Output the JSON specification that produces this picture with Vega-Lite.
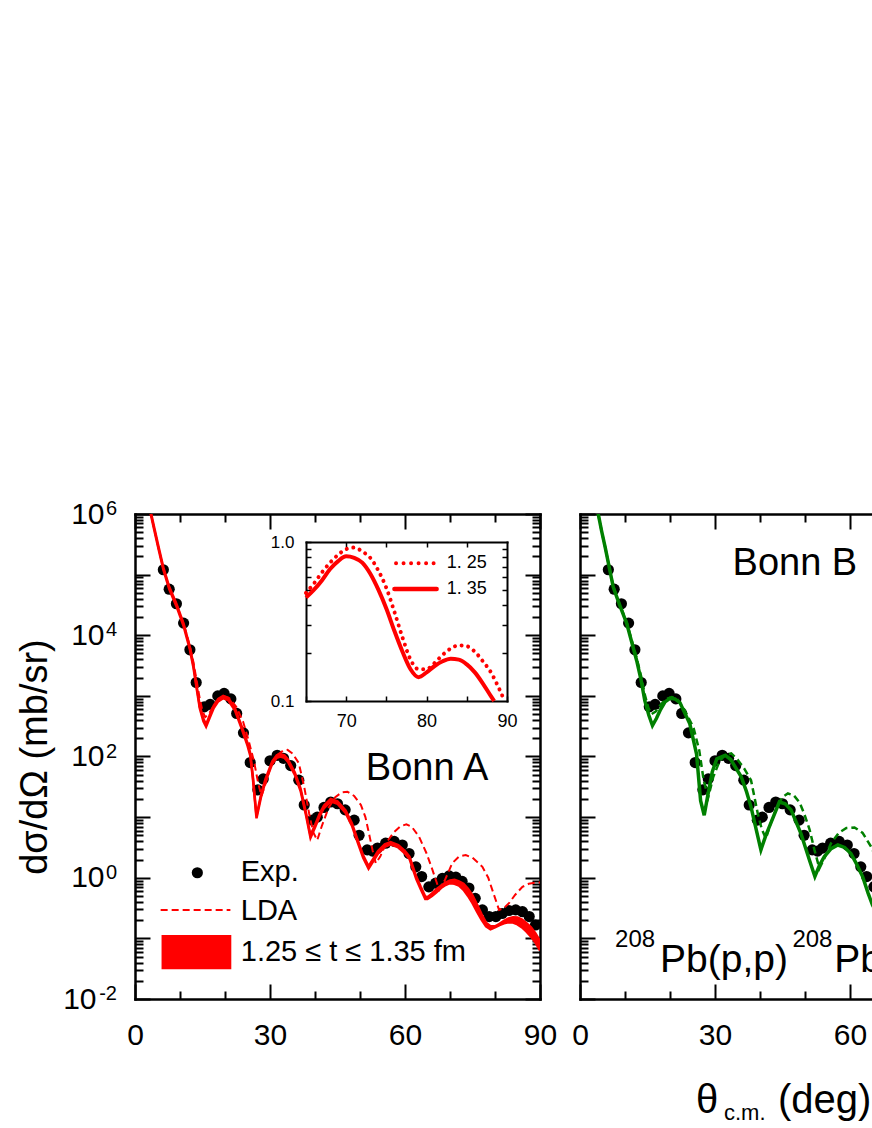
{
  "$schema": "https://vega.github.io/schema/vega-lite/v6.json",
  "padding": {"left": 16, "top": 499, "right": 0, "bottom": 0},
  "bounds": "flush",
  "spacing": 40,
  "config": {
    "view": {"stroke": null},
    "font": "Liberation Sans",
    "axis": {"grid": false, "domainColor": "black", "domainWidth": 2.5, "domainCap": "square", "tickColor": "black", "tickWidth": 2, "labelFont": "Liberation Sans", "labelFontSize": 30, "labelColor": "black", "titleFont": "Liberation Sans", "titleColor": "black", "titleFontWeight": "normal", "labelFlush": false, "labelOverlap": false, "labelBound": false},
    "text": {"font": "Liberation Sans", "color": "black"}
  },
  "datasets": {
    "one": [{}],
    "expo": [{"v":1000000,"e":"6"},{"v":10000,"e":"4"},{"v":100,"e":"2"},{"v":1,"e":"0"},{"v":0.01,"e":"-2"}],
    "exp": [
      {"deg":6.3,"xs":120200},{"deg":7.6,"xs":57540},{"deg":9.2,"xs":33110},{"deg":10.8,"xs":15850},{"deg":12.2,"xs":5754},{"deg":13.6,"xs":1660},{"deg":15.4,"xs":660.7},{"deg":16.7,"xs":724.4},{"deg":18.4,"xs":1000},{"deg":19.8,"xs":1096},{"deg":21.3,"xs":891.3},{"deg":22.6,"xs":512.9},{"deg":24.1,"xs":245.5},{"deg":25.6,"xs":79.43},{"deg":27.3,"xs":28.18},{"deg":28.5,"xs":42.66},{"deg":30.0,"xs":85.11},{"deg":31.6,"xs":104.7},{"deg":33.0,"xs":93.33},{"deg":34.6,"xs":70.79},{"deg":36.4,"xs":40.74},{"deg":37.6,"xs":15.85},{"deg":39.4,"xs":8.913},{"deg":40.5,"xs":10.0},{"deg":42.0,"xs":14.45},{"deg":43.5,"xs":17.78},{"deg":45.0,"xs":16.6},{"deg":46.7,"xs":13.18},{"deg":48.7,"xs":8.913},{"deg":49.8,"xs":5.012},{"deg":51.6,"xs":2.884},{"deg":52.8,"xs":2.754},{"deg":53.9,"xs":3.09},{"deg":55.7,"xs":3.715},{"deg":57.6,"xs":3.981},{"deg":59.4,"xs":3.467},{"deg":60.9,"xs":2.512},{"deg":62.4,"xs":1.514},{"deg":63.7,"xs":1.047},{"deg":65.3,"xs":0.7079},{"deg":66.8,"xs":0.8128},{"deg":68.3,"xs":0.9772},{"deg":69.8,"xs":1.072},{"deg":71.3,"xs":1.023},{"deg":72.7,"xs":0.871},{"deg":74.2,"xs":0.6761},{"deg":75.6,"xs":0.4571},{"deg":77.2,"xs":0.2951},{"deg":78.7,"xs":0.2291},{"deg":80.2,"xs":0.2291},{"deg":81.6,"xs":0.257},{"deg":83.1,"xs":0.2884},{"deg":84.6,"xs":0.2951},{"deg":86.1,"xs":0.2754},{"deg":87.6,"xs":0.2291},{"deg":89.0,"xs":0.166}
    ],
    "band": [
      {"deg":3.4,"lo":1072000,"hi":1175000},{"deg":4.2,"lo":575400,"hi":631000},{"deg":5.2,"lo":269200,"hi":295100},{"deg":6.3,"lo":120200,"hi":131800},{"deg":7.6,"lo":57540,"hi":63100},{"deg":9.2,"lo":30200,"hi":33110},{"deg":10.8,"lo":14130,"hi":15490},{"deg":12.2,"lo":5754,"hi":6310},{"deg":13.0,"lo":2884,"hi":3162},{"deg":13.7,"lo":1318,"hi":1445},{"deg":14.4,"lo":616.6,"hi":676.1},{"deg":15.2,"lo":380.2,"hi":416.9},{"deg":15.8,"lo":309.0,"hi":338.8},{"deg":16.6,"lo":436.5,"hi":478.6},{"deg":17.5,"lo":631.0,"hi":691.8},{"deg":18.5,"lo":812.8,"hi":891.3},{"deg":19.6,"lo":912.0,"hi":1000},{"deg":20.7,"lo":851.1,"hi":933.3},{"deg":22.2,"lo":575.4,"hi":631.0},{"deg":23.7,"lo":288.4,"hi":316.2},{"deg":25.0,"lo":151.4,"hi":166.0},{"deg":25.6,"lo":104.7,"hi":114.8},{"deg":26.2,"lo":42.66,"hi":46.77},{"deg":27.0,"lo":9.55,"hi":10.47},{"deg":28.0,"lo":21.38,"hi":23.44},{"deg":29.0,"lo":38.9,"hi":42.66},{"deg":30.5,"lo":75.86,"hi":83.18},{"deg":31.5,"lo":95.5,"hi":104.7},{"deg":32.3,"lo":100,"hi":109.6},{"deg":33.2,"lo":95.5,"hi":104.7},{"deg":34.0,"lo":81.28,"hi":89.13},{"deg":35.5,"lo":50.12,"hi":54.95},{"deg":36.8,"lo":26.92,"hi":29.51},{"deg":38.0,"lo":10.72,"hi":11.75},{"deg":39.0,"lo":4.571,"hi":5.012},{"deg":40.0,"lo":6.761,"hi":7.413},{"deg":41.0,"lo":10.23,"hi":11.22},{"deg":42.0,"lo":14.13,"hi":15.49},{"deg":43.5,"lo":18.2,"hi":19.95},{"deg":45.0,"lo":16.6,"hi":18.2},{"deg":46.8,"lo":11.75,"hi":12.88},{"deg":48.2,"lo":7.244,"hi":7.943},{"deg":49.4,"lo":3.981,"hi":4.365},{"deg":50.7,"lo":2.138,"hi":2.344},{"deg":51.9,"lo":1.413,"hi":1.549},{"deg":53.0,"lo":1.905,"hi":2.089},{"deg":54.0,"lo":2.512,"hi":2.754},{"deg":55.5,"lo":3.236,"hi":3.548},{"deg":56.8,"lo":3.548,"hi":3.89},{"deg":58.5,"lo":3.162,"hi":3.467},{"deg":60.0,"lo":2.512,"hi":2.754},{"deg":61.0,"lo":2.042,"hi":2.239},{"deg":62.5,"lo":0.955,"hi":1.047},{"deg":63.5,"lo":0.6457,"hi":0.7079},{"deg":64.5,"lo":0.4467,"hi":0.4898},{"deg":65,"lo":0.4467,"hi":0.4786},{"deg":66,"lo":0.5012,"hi":0.5495},{"deg":67,"lo":0.5754,"hi":0.6457},{"deg":68,"lo":0.6761,"hi":0.7413},{"deg":69,"lo":0.7586,"hi":0.8318},{"deg":70,"lo":0.8128,"hi":0.9016},{"deg":71,"lo":0.7943,"hi":0.9226},{"deg":72,"lo":0.7413,"hi":0.871},{"deg":73,"lo":0.631,"hi":0.7943},{"deg":74,"lo":0.5012,"hi":0.6607},{"deg":75,"lo":0.3802,"hi":0.5129},{"deg":76,"lo":0.2754,"hi":0.3631},{"deg":77,"lo":0.2042,"hi":0.2512},{"deg":78,"lo":0.1585,"hi":0.182},{"deg":79,"lo":0.1413,"hi":0.1585},{"deg":80,"lo":0.1514,"hi":0.1585},{"deg":81,"lo":0.166,"hi":0.1738},{"deg":82,"lo":0.1778,"hi":0.195},{"deg":83,"lo":0.1841,"hi":0.2138},{"deg":84,"lo":0.182,"hi":0.2239},{"deg":85,"lo":0.1698,"hi":0.2213},{"deg":86,"lo":0.1514,"hi":0.2042},{"deg":87,"lo":0.1288,"hi":0.1778},{"deg":88,"lo":0.1072,"hi":0.1514},{"deg":89,"lo":0.08511,"hi":0.1202},{"deg":90,"lo":0.0631,"hi":0.0912}
    ],
    "lda": [
      {"deg":3.4,"xs":1122000},{"deg":4.2,"xs":602600},{"deg":5.2,"xs":281800},{"deg":6.3,"xs":125900},{"deg":7.6,"xs":61660},{"deg":9.2,"xs":32360},{"deg":10.8,"xs":15490},{"deg":12.2,"xs":6607},{"deg":13.0,"xs":3548},{"deg":13.7,"xs":1778},{"deg":14.4,"xs":891.3},{"deg":15.0,"xs":562.3},{"deg":15.6,"xs":446.7},{"deg":16.4,"xs":501.2},{"deg":17.5,"xs":691.8},{"deg":18.7,"xs":891.3},{"deg":19.9,"xs":977.2},{"deg":21.0,"xs":912.0},{"deg":22.5,"xs":660.7},{"deg":24.0,"xs":380.2},{"deg":25.3,"xs":177.8},{"deg":26.5,"xs":79.43},{"deg":27.4,"xs":35.48},{"deg":28.1,"xs":22.39},{"deg":28.8,"xs":31.62},{"deg":30.0,"xs":63.1},{"deg":31.5,"xs":104.7},{"deg":33.0,"xs":125.9},{"deg":33.9,"xs":128.8},{"deg":35.0,"xs":112.2},{"deg":36.4,"xs":77.62},{"deg":37.6,"xs":31.62},{"deg":38.7,"xs":11.48},{"deg":39.6,"xs":5.623},{"deg":40.5,"xs":4.169},{"deg":41.5,"xs":7.079},{"deg":43.0,"xs":14.13},{"deg":44.5,"xs":21.38},{"deg":46.0,"xs":25.7},{"deg":47.2,"xs":26.3},{"deg":48.7,"xs":22.39},{"deg":50.2,"xs":15.85},{"deg":51.2,"xs":10.0},{"deg":52.0,"xs":5.37},{"deg":52.8,"xs":2.818},{"deg":53.5,"xs":1.738},{"deg":54.5,"xs":2.239},{"deg":55.8,"xs":3.715},{"deg":57.5,"xs":5.623},{"deg":59.0,"xs":7.079},{"deg":60.3,"xs":7.586},{"deg":61.5,"xs":6.918},{"deg":63.1,"xs":4.786},{"deg":64.8,"xs":2.512},{"deg":66.1,"xs":1.349},{"deg":67.6,"xs":0.631},{"deg":68.8,"xs":0.8913},{"deg":70.5,"xs":1.738},{"deg":72.0,"xs":2.239},{"deg":73.5,"xs":2.371},{"deg":75.0,"xs":2.138},{"deg":77.2,"xs":1.514},{"deg":78.5,"xs":1.0},{"deg":79.4,"xs":0.631},{"deg":80.9,"xs":0.2951},{"deg":82.0,"xs":0.3162},{"deg":83.1,"xs":0.3802},{"deg":84.5,"xs":0.5248},{"deg":86.1,"xs":0.7079},{"deg":87.5,"xs":0.7943},{"deg":89.0,"xs":0.8318},{"deg":90.0,"xs":0.8318}
    ],
    "solidB": [
      {"deg":4.0,"xs":1047000},{"deg":4.8,"xs":524800},{"deg":5.6,"xs":281800},{"deg":7.4,"xs":61660},{"deg":8.8,"xs":31620},{"deg":10.4,"xs":15490},{"deg":12.6,"xs":3802},{"deg":13.6,"xs":1778},{"deg":14.4,"xs":831.8},{"deg":15.3,"xs":478.6},{"deg":16.1,"xs":323.6},{"deg":17.0,"xs":426.6},{"deg":17.8,"xs":575.4},{"deg":18.9,"xs":794.3},{"deg":20.0,"xs":912.0},{"deg":21.1,"xs":891.3},{"deg":22.2,"xs":776.2},{"deg":24.4,"xs":346.7},{"deg":25.9,"xs":109.6},{"deg":26.8,"xs":18.62},{"deg":27.6,"xs":10.72},{"deg":28.5,"xs":25.12},{"deg":29.4,"xs":56.23},{"deg":30.4,"xs":91.2},{"deg":32.3,"xs":104.7},{"deg":33.5,"xs":89.13},{"deg":35.8,"xs":46.77},{"deg":37.0,"xs":26.3},{"deg":38.0,"xs":14.79},{"deg":39.2,"xs":6.026},{"deg":40.2,"xs":2.884},{"deg":41.3,"xs":5.012},{"deg":42.4,"xs":7.943},{"deg":44.3,"xs":17.78},{"deg":45.6,"xs":16.6},{"deg":46.9,"xs":13.18},{"deg":49.1,"xs":5.37},{"deg":50.0,"xs":3.311},{"deg":51.0,"xs":1.95},{"deg":52.2,"xs":1.047},{"deg":53.2,"xs":1.585},{"deg":54.3,"xs":2.239},{"deg":55.8,"xs":3.02},{"deg":57.3,"xs":3.467},{"deg":58.8,"xs":3.162},{"deg":60.2,"xs":2.512},{"deg":61.5,"xs":1.66},{"deg":62.8,"xs":1.047},{"deg":64.0,"xs":0.5623},{"deg":65.0,"xs":0.3548},{"deg":65.5,"xs":0.302}
    ],
    "ldaB": [
      {"deg":4.0,"xs":1047000},{"deg":4.8,"xs":524800},{"deg":5.6,"xs":281800},{"deg":7.4,"xs":63100},{"deg":8.8,"xs":32360},{"deg":10.4,"xs":16220},{"deg":12.6,"xs":4169},{"deg":13.6,"xs":2089},{"deg":14.4,"xs":1047},{"deg":15.2,"xs":631.0},{"deg":15.9,"xs":501.2},{"deg":16.8,"xs":549.5},{"deg":18.0,"xs":724.4},{"deg":19.2,"xs":891.3},{"deg":20.4,"xs":955.0},{"deg":21.6,"xs":891.3},{"deg":23.0,"xs":631.0},{"deg":25.2,"xs":302.0},{"deg":26.5,"xs":125.9},{"deg":27.5,"xs":39.81},{"deg":28.5,"xs":21.38},{"deg":29.6,"xs":45.71},{"deg":31.0,"xs":83.18},{"deg":32.3,"xs":107.2},{"deg":33.6,"xs":112.2},{"deg":35.0,"xs":89.13},{"deg":36.5,"xs":63.1},{"deg":38.0,"xs":40.74},{"deg":39.5,"xs":11.48},{"deg":40.4,"xs":6.31},{"deg":41.3,"xs":4.467},{"deg":42.5,"xs":8.318},{"deg":43.8,"xs":15.14},{"deg":45.0,"xs":21.38},{"deg":46.2,"xs":24.55},{"deg":47.5,"xs":22.91},{"deg":48.8,"xs":17.38},{"deg":49.8,"xs":11.48},{"deg":51.0,"xs":6.31},{"deg":52.1,"xs":2.884},{"deg":53.2,"xs":1.429},{"deg":54.3,"xs":2.089},{"deg":55.8,"xs":3.715},{"deg":57.5,"xs":5.495},{"deg":59.2,"xs":6.607},{"deg":61.0,"xs":6.761},{"deg":62.8,"xs":5.495},{"deg":64.7,"xs":3.236},{"deg":66.0,"xs":1.995}
    ],
    "inset": [
      {"deg":65,"t":"1.35","xs":0.4467},{"deg":66,"t":"1.35","xs":0.5012},{"deg":67,"t":"1.35","xs":0.5754},{"deg":68,"t":"1.35","xs":0.6761},{"deg":69,"t":"1.35","xs":0.7586},{"deg":70,"t":"1.35","xs":0.8128},{"deg":71,"t":"1.35","xs":0.7943},{"deg":72,"t":"1.35","xs":0.7413},{"deg":73,"t":"1.35","xs":0.631},{"deg":74,"t":"1.35","xs":0.5012},{"deg":75,"t":"1.35","xs":0.3802},{"deg":76,"t":"1.35","xs":0.2754},{"deg":77,"t":"1.35","xs":0.2042},{"deg":78,"t":"1.35","xs":0.1585},{"deg":79,"t":"1.35","xs":0.1413},{"deg":80,"t":"1.35","xs":0.1514},{"deg":81,"t":"1.35","xs":0.166},{"deg":82,"t":"1.35","xs":0.1778},{"deg":83,"t":"1.35","xs":0.1841},{"deg":84,"t":"1.35","xs":0.182},{"deg":85,"t":"1.35","xs":0.1698},{"deg":86,"t":"1.35","xs":0.1514},{"deg":87,"t":"1.35","xs":0.1288},{"deg":88,"t":"1.35","xs":0.1072},{"deg":88.4,"t":"1.35","xs":0.1},
      {"deg":65,"t":"1.25","xs":0.4786},{"deg":66,"t":"1.25","xs":0.5495},{"deg":67,"t":"1.25","xs":0.6457},{"deg":68,"t":"1.25","xs":0.7413},{"deg":69,"t":"1.25","xs":0.8318},{"deg":70,"t":"1.25","xs":0.9016},{"deg":71,"t":"1.25","xs":0.9226},{"deg":72,"t":"1.25","xs":0.871},{"deg":73,"t":"1.25","xs":0.7943},{"deg":74,"t":"1.25","xs":0.6607},{"deg":75,"t":"1.25","xs":0.5129},{"deg":76,"t":"1.25","xs":0.3631},{"deg":77,"t":"1.25","xs":0.2512},{"deg":78,"t":"1.25","xs":0.182},{"deg":79,"t":"1.25","xs":0.1585},{"deg":80,"t":"1.25","xs":0.1585},{"deg":81,"t":"1.25","xs":0.1738},{"deg":82,"t":"1.25","xs":0.195},{"deg":83,"t":"1.25","xs":0.2138},{"deg":84,"t":"1.25","xs":0.2239},{"deg":85,"t":"1.25","xs":0.2213},{"deg":86,"t":"1.25","xs":0.2042},{"deg":87,"t":"1.25","xs":0.1778},{"deg":88,"t":"1.25","xs":0.1514},{"deg":89,"t":"1.25","xs":0.1202},{"deg":89.7,"t":"1.25","xs":0.1}
    ]
  },
  "hconcat": [
    {
      "width": 405,
      "height": 485,
      "layer": [
        {
          "data": {"name": "exp"},
          "mark": {"type": "point", "filled": true, "color": "black", "size": 125, "opacity": 1},
          "encoding": {
            "x": {"field": "deg", "type": "quantitative", "scale": {"domain": [0, 90], "nice": false, "zero": false},
              "axis": {"orient": "bottom", "values": [0,10,20,30,40,50,60,70,80,90], "format": "d", "labelExpr": "datum.value % 30 == 0 ? datum.label : ''", "tickSize": {"condition": {"test": "datum.value % 30 == 0", "value": -15}, "value": -8}, "labelPadding": 36, "title": null}},
            "y": {"field": "xs", "type": "quantitative", "scale": {"type": "log", "domain": [0.01, 1000000], "nice": false},
              "axis": {"orient": "left", "values": [0.01,0.02,0.03,0.04,0.05,0.06,0.07,0.08,0.09,0.1,0.2,0.3,0.4,0.5,0.6,0.7,0.8,0.9,1,2,3,4,5,6,7,8,9,10,20,30,40,50,60,70,80,90,100,200,300,400,500,600,700,800,900,1000,2000,3000,4000,5000,6000,7000,8000,9000,10000,20000,30000,40000,50000,60000,70000,80000,90000,100000,200000,300000,400000,500000,600000,700000,800000,900000,1000000],
                "labelExpr": "(datum.value == 1000000 || datum.value == 10000 || datum.value == 100 || datum.value == 1 || datum.value == 0.01) ? '10' : ''",
                "tickSize": {"condition": {"test": "abs(log(datum.value)/LN10 - round(log(datum.value)/LN10)) < 0.001", "value": -15}, "value": -8},
                "labelPadding": {"condition": {"test": "datum.value == 0.01", "value": 54}, "value": 46},
                "title": "dσ/dΩ (mb/sr)", "titleFontSize": 38, "titlePadding": 8}}
          }
        },
        {
          "data": {"name": "expo"},
          "mark": {"type": "text", "align": "right", "baseline": "alphabetic", "fontSize": 20, "dy": 1},
          "encoding": {
            "x": {"datum": -4.0, "type": "quantitative", "scale": {"domain": [0, 90], "nice": false, "zero": false}, "axis": null},
            "y": {"field": "v", "type": "quantitative", "scale": {"type": "log", "domain": [0.01, 1000000], "nice": false}, "axis": null},
            "text": {"field": "e", "type": "nominal"}
          }
        },
        {
          "data": {"name": "exp"},
          "mark": {"type": "point", "opacity": 0},
          "encoding": {
            "x": {"field": "deg", "type": "quantitative", "scale": {"domain": [0, 90], "nice": false, "zero": false},
              "axis": {"orient": "top", "values": [0,10,20,30,40,50,60,70,80,90], "labels": false, "tickSize": {"condition": {"test": "datum.value % 30 == 0", "value": -15}, "value": -8}, "title": null}},
            "y": {"field": "xs", "type": "quantitative", "scale": {"type": "log", "domain": [0.01, 1000000], "nice": false},
              "axis": {"orient": "right", "values": [0.01,0.02,0.03,0.04,0.05,0.06,0.07,0.08,0.09,0.1,0.2,0.3,0.4,0.5,0.6,0.7,0.8,0.9,1,2,3,4,5,6,7,8,9,10,20,30,40,50,60,70,80,90,100,200,300,400,500,600,700,800,900,1000,2000,3000,4000,5000,6000,7000,8000,9000,10000,20000,30000,40000,50000,60000,70000,80000,90000,100000,200000,300000,400000,500000,600000,700000,800000,900000,1000000],
                "labels": false, "tickSize": {"condition": {"test": "abs(log(datum.value)/LN10 - round(log(datum.value)/LN10)) < 0.001", "value": -15}, "value": -8}, "title": null}}
          }
        },
        {
          "data": {"name": "band"},
          "mark": {"type": "area", "color": "#ff0000", "opacity": 1, "clip": true},
          "encoding": {
            "x": {"field": "deg", "type": "quantitative", "scale": {"domain": [0, 90], "nice": false, "zero": false}, "axis": null},
            "y": {"field": "lo", "type": "quantitative", "scale": {"type": "log", "domain": [0.01, 1000000], "nice": false}, "axis": null},
            "y2": {"field": "hi"}
          }
        },
        {
          "data": {"name": "band"},
          "mark": {"type": "line", "color": "#ff0000", "strokeWidth": 2.5, "clip": true},
          "encoding": {
            "x": {"field": "deg", "type": "quantitative", "scale": {"domain": [0, 90], "nice": false, "zero": false}, "axis": null},
            "y": {"field": "lo", "type": "quantitative", "scale": {"type": "log", "domain": [0.01, 1000000], "nice": false}, "axis": null}
          }
        },
        {
          "data": {"name": "band"},
          "mark": {"type": "line", "color": "#ff0000", "strokeWidth": 2.5, "clip": true},
          "encoding": {
            "x": {"field": "deg", "type": "quantitative", "scale": {"domain": [0, 90], "nice": false, "zero": false}, "axis": null},
            "y": {"field": "hi", "type": "quantitative", "scale": {"type": "log", "domain": [0.01, 1000000], "nice": false}, "axis": null}
          }
        },
        {
          "data": {"name": "lda"},
          "mark": {"type": "line", "color": "#ff0000", "strokeWidth": 2, "strokeDash": [7, 4], "clip": true},
          "encoding": {
            "x": {"field": "deg", "type": "quantitative", "scale": {"domain": [0, 90], "nice": false, "zero": false}, "axis": null},
            "y": {"field": "xs", "type": "quantitative", "scale": {"type": "log", "domain": [0.01, 1000000], "nice": false}, "axis": null}
          }
        },
        {
          "data": {"name": "one"},
          "mark": {"type": "point", "filled": true, "color": "black", "size": 125, "opacity": 1},
          "encoding": {
            "x": {"datum": 13.85, "type": "quantitative", "scale": {"domain": [0, 90], "nice": false, "zero": false}, "axis": null},
            "y": {"datum": 1.21, "type": "quantitative", "scale": {"type": "log", "domain": [0.01, 1000000], "nice": false}, "axis": null}
          }
        },
        {
          "data": {"name": "one"},
          "mark": {"type": "rule", "color": "#ff0000", "strokeWidth": 2, "strokeDash": [7, 4]},
          "encoding": {
            "x": {"datum": 5.7, "type": "quantitative", "scale": {"domain": [0, 90], "nice": false, "zero": false}, "axis": null},
            "x2": {"datum": 21.2},
            "y": {"datum": 0.2938, "type": "quantitative", "scale": {"type": "log", "domain": [0.01, 1000000], "nice": false}, "axis": null}
          }
        },
        {
          "data": {"name": "one"},
          "mark": {"type": "rect", "color": "#ff0000", "opacity": 1},
          "encoding": {
            "x": {"datum": 5.9, "type": "quantitative", "scale": {"domain": [0, 90], "nice": false, "zero": false}, "axis": null},
            "x2": {"datum": 21.4},
            "y": {"datum": 0.1138, "type": "quantitative", "scale": {"type": "log", "domain": [0.01, 1000000], "nice": false}, "axis": null},
            "y2": {"datum": 0.0309}
          }
        },
        {
          "data": {"name": "one"},
          "mark": {"type": "text", "align": "left", "baseline": "middle", "fontSize": 29, "text": "Exp."},
          "encoding": {
            "x": {"datum": 23.5, "type": "quantitative", "scale": {"domain": [0, 90], "nice": false, "zero": false}, "axis": null},
            "y": {"datum": 1.23, "type": "quantitative", "scale": {"type": "log", "domain": [0.01, 1000000], "nice": false}, "axis": null}
          }
        },
        {
          "data": {"name": "one"},
          "mark": {"type": "text", "align": "left", "baseline": "middle", "fontSize": 29, "text": "LDA"},
          "encoding": {
            "x": {"datum": 23.5, "type": "quantitative", "scale": {"domain": [0, 90], "nice": false, "zero": false}, "axis": null},
            "y": {"datum": 0.2818, "type": "quantitative", "scale": {"type": "log", "domain": [0.01, 1000000], "nice": false}, "axis": null}
          }
        },
        {
          "data": {"name": "one"},
          "mark": {"type": "text", "align": "left", "baseline": "middle", "fontSize": 29, "text": "1.25 ≤ t ≤ 1.35 fm"},
          "encoding": {
            "x": {"datum": 23.5, "type": "quantitative", "scale": {"domain": [0, 90], "nice": false, "zero": false}, "axis": null},
            "y": {"datum": 0.0596, "type": "quantitative", "scale": {"type": "log", "domain": [0.01, 1000000], "nice": false}, "axis": null}
          }
        },
        {
          "data": {"name": "one"},
          "mark": {"type": "text", "align": "left", "baseline": "alphabetic", "fontSize": 38, "text": "Bonn A"},
          "encoding": {
            "x": {"datum": 51.3, "type": "quantitative", "scale": {"domain": [0, 90], "nice": false, "zero": false}, "axis": null},
            "y": {"datum": 40.93, "type": "quantitative", "scale": {"type": "log", "domain": [0.01, 1000000], "nice": false}, "axis": null}
          }
        },
        {
          "data": {"name": "inset"},
          "transform": [{"filter": "datum.t == '1.35'"}],
          "mark": {"type": "line", "color": "#ff0000", "strokeWidth": 4, "interpolate": "monotone"},
          "encoding": {
            "x": {"field": "deg", "type": "quantitative", "scale": {"domain": [65, 90], "range": [171, 372], "nice": false, "zero": false},
              "axis": {"orient": "bottom", "offset": -298, "values": [65,70,75,80,85,90], "labelExpr": "datum.value % 10 == 0 ? datum.label : ''", "tickSize": -5, "labelFontSize": 18, "labelPadding": 16, "domainWidth": 2, "tickWidth": 1.5, "title": null}},
            "y": {"field": "xs", "type": "quantitative", "scale": {"type": "log", "domain": [0.1, 1], "range": [187, 28], "nice": false},
              "axis": {"orient": "left", "offset": -171, "values": [0.1,0.2,0.3,0.4,0.5,0.6,0.7,0.8,0.9,1], "labelExpr": "datum.value == 1 ? '1.0' : datum.value == 0.1 ? '0.1' : ''", "tickSize": -5, "labelFontSize": 17, "labelPadding": 17, "domainWidth": 2, "tickWidth": 1.5, "title": null}}
          }
        },
        {
          "data": {"name": "inset"},
          "mark": {"type": "point", "opacity": 0},
          "encoding": {
            "x": {"field": "deg", "type": "quantitative", "scale": {"domain": [65, 90], "range": [171, 372], "nice": false, "zero": false},
              "axis": {"orient": "top", "offset": -28, "values": [70,75,80,85], "labels": false, "tickSize": -5, "domainWidth": 2, "tickWidth": 1.5, "title": null}},
            "y": {"field": "xs", "type": "quantitative", "scale": {"type": "log", "domain": [0.1, 1], "range": [187, 28], "nice": false},
              "axis": {"orient": "right", "offset": -33, "values": [0.2,0.3,0.4,0.5,0.6,0.7,0.8,0.9], "labels": false, "tickSize": -5, "domainWidth": 2, "tickWidth": 1.5, "title": null}}
          }
        },
        {
          "data": {"name": "inset"},
          "transform": [{"filter": "datum.t == '1.25'"}],
          "mark": {"type": "line", "color": "#ff0000", "strokeWidth": 4, "strokeDash": [0.01, 6.7], "strokeCap": "round", "interpolate": "monotone"},
          "encoding": {
            "x": {"field": "deg", "type": "quantitative", "scale": {"domain": [65, 90], "range": [171, 372], "nice": false, "zero": false}, "axis": null},
            "y": {"field": "xs", "type": "quantitative", "scale": {"type": "log", "domain": [0.1, 1], "range": [187, 28], "nice": false}, "axis": null}
          }
        },
        {
          "data": {"name": "one"},
          "mark": {"type": "rule", "color": "#ff0000", "strokeWidth": 4, "strokeDash": [0.01, 7.5], "strokeCap": "round"},
          "encoding": {
            "x": {"datum": 76.2, "type": "quantitative", "scale": {"domain": [65, 90], "range": [171, 372], "nice": false, "zero": false}, "axis": null},
            "x2": {"datum": 81.2},
            "y": {"datum": 0.7345, "type": "quantitative", "scale": {"type": "log", "domain": [0.1, 1], "range": [187, 28], "nice": false}, "axis": null}
          }
        },
        {
          "data": {"name": "one"},
          "mark": {"type": "rule", "color": "#ff0000", "strokeWidth": 4.5, "strokeCap": "round"},
          "encoding": {
            "x": {"datum": 76.0, "type": "quantitative", "scale": {"domain": [65, 90], "range": [171, 372], "nice": false, "zero": false}, "axis": null},
            "x2": {"datum": 81.25},
            "y": {"datum": 0.506, "type": "quantitative", "scale": {"type": "log", "domain": [0.1, 1], "range": [187, 28], "nice": false}, "axis": null}
          }
        },
        {
          "data": {"name": "one"},
          "mark": {"type": "text", "align": "left", "baseline": "middle", "fontSize": 18, "text": "1. 25"},
          "encoding": {
            "x": {"datum": 82.5, "type": "quantitative", "scale": {"domain": [65, 90], "range": [171, 372], "nice": false, "zero": false}, "axis": null},
            "y": {"datum": 0.7345, "type": "quantitative", "scale": {"type": "log", "domain": [0.1, 1], "range": [187, 28], "nice": false}, "axis": null}
          }
        },
        {
          "data": {"name": "one"},
          "mark": {"type": "text", "align": "left", "baseline": "middle", "fontSize": 18, "text": "1. 35"},
          "encoding": {
            "x": {"datum": 82.5, "type": "quantitative", "scale": {"domain": [65, 90], "range": [171, 372], "nice": false, "zero": false}, "axis": null},
            "y": {"datum": 0.506, "type": "quantitative", "scale": {"type": "log", "domain": [0.1, 1], "range": [187, 28], "nice": false}, "axis": null}
          }
        }
      ],
      "resolve": {"scale": {"x": "independent", "y": "independent"}, "axis": {"x": "independent", "y": "independent"}}
    },
    {
      "width": 405,
      "height": 485,
      "layer": [
        {
          "data": {"name": "exp"},
          "mark": {"type": "point", "filled": true, "color": "black", "size": 125, "opacity": 1},
          "encoding": {
            "x": {"field": "deg", "type": "quantitative", "scale": {"domain": [0, 90], "nice": false, "zero": false},
              "axis": {"orient": "bottom", "values": [0,10,20,30,40,50,60,70,80,90], "format": "d", "labelExpr": "datum.value % 30 == 0 ? datum.label : ''", "tickSize": {"condition": {"test": "datum.value % 30 == 0", "value": -15}, "value": -8}, "labelPadding": 36, "title": null}},
            "y": {"field": "xs", "type": "quantitative", "scale": {"type": "log", "domain": [0.01, 1000000], "nice": false},
              "axis": {"orient": "left", "values": [0.01,0.02,0.03,0.04,0.05,0.06,0.07,0.08,0.09,0.1,0.2,0.3,0.4,0.5,0.6,0.7,0.8,0.9,1,2,3,4,5,6,7,8,9,10,20,30,40,50,60,70,80,90,100,200,300,400,500,600,700,800,900,1000,2000,3000,4000,5000,6000,7000,8000,9000,10000,20000,30000,40000,50000,60000,70000,80000,90000,100000,200000,300000,400000,500000,600000,700000,800000,900000,1000000],
                "labels": false,
                "tickSize": {"condition": {"test": "abs(log(datum.value)/LN10 - round(log(datum.value)/LN10)) < 0.001", "value": -15}, "value": -8},
                "title": null}}
          }
        },
        {
          "data": {"name": "exp"},
          "mark": {"type": "point", "opacity": 0},
          "encoding": {
            "x": {"field": "deg", "type": "quantitative", "scale": {"domain": [0, 90], "nice": false, "zero": false},
              "axis": {"orient": "top", "values": [0,10,20,30,40,50,60,70,80,90], "labels": false, "tickSize": {"condition": {"test": "datum.value % 30 == 0", "value": -15}, "value": -8}, "title": null}},
            "y": {"field": "xs", "type": "quantitative", "scale": {"type": "log", "domain": [0.01, 1000000], "nice": false},
              "axis": {"orient": "right", "values": [0.01,0.1,1,10,100,1000,10000,100000,1000000], "labels": false, "tickSize": -15, "title": null}}
          }
        },
        {
          "data": {"name": "ldaB"},
          "mark": {"type": "line", "color": "#008000", "strokeWidth": 2.5, "strokeDash": [7, 4], "clip": true},
          "encoding": {
            "x": {"field": "deg", "type": "quantitative", "scale": {"domain": [0, 90], "nice": false, "zero": false}, "axis": null},
            "y": {"field": "xs", "type": "quantitative", "scale": {"type": "log", "domain": [0.01, 1000000], "nice": false}, "axis": null}
          }
        },
        {
          "data": {"name": "solidB"},
          "mark": {"type": "line", "color": "#008000", "strokeWidth": 3.5, "clip": true},
          "encoding": {
            "x": {"field": "deg", "type": "quantitative", "scale": {"domain": [0, 90], "nice": false, "zero": false}, "axis": null},
            "y": {"field": "xs", "type": "quantitative", "scale": {"type": "log", "domain": [0.01, 1000000], "nice": false}, "axis": null}
          }
        },
        {
          "data": {"name": "one"},
          "mark": {"type": "text", "align": "left", "baseline": "alphabetic", "fontSize": 38, "text": "Bonn B"},
          "encoding": {
            "x": {"datum": 33.9, "type": "quantitative", "scale": {"domain": [0, 90], "nice": false, "zero": false}, "axis": null},
            "y": {"datum": 98620, "type": "quantitative", "scale": {"type": "log", "domain": [0.01, 1000000], "nice": false}, "axis": null}
          }
        },
        {
          "data": {"name": "one"},
          "mark": {"type": "text", "align": "left", "baseline": "alphabetic", "fontSize": 24, "text": "208"},
          "encoding": {
            "x": {"datum": 7.8, "type": "quantitative", "scale": {"domain": [0, 90], "nice": false, "zero": false}, "axis": null},
            "y": {"datum": 0.07295, "type": "quantitative", "scale": {"type": "log", "domain": [0.01, 1000000], "nice": false}, "axis": null}
          }
        },
        {
          "data": {"name": "one"},
          "mark": {"type": "text", "align": "left", "baseline": "alphabetic", "fontSize": 39, "text": "Pb(p,p)"},
          "encoding": {
            "x": {"datum": 17.8, "type": "quantitative", "scale": {"domain": [0, 90], "nice": false, "zero": false}, "axis": null},
            "y": {"datum": 0.02818, "type": "quantitative", "scale": {"type": "log", "domain": [0.01, 1000000], "nice": false}, "axis": null}
          }
        },
        {
          "data": {"name": "one"},
          "mark": {"type": "text", "align": "left", "baseline": "alphabetic", "fontSize": 24, "text": "208"},
          "encoding": {
            "x": {"datum": 47.2, "type": "quantitative", "scale": {"domain": [0, 90], "nice": false, "zero": false}, "axis": null},
            "y": {"datum": 0.07295, "type": "quantitative", "scale": {"type": "log", "domain": [0.01, 1000000], "nice": false}, "axis": null}
          }
        },
        {
          "data": {"name": "one"},
          "mark": {"type": "text", "align": "left", "baseline": "alphabetic", "fontSize": 39, "text": "Pb"},
          "encoding": {
            "x": {"datum": 56.5, "type": "quantitative", "scale": {"domain": [0, 90], "nice": false, "zero": false}, "axis": null},
            "y": {"datum": 0.02818, "type": "quantitative", "scale": {"type": "log", "domain": [0.01, 1000000], "nice": false}, "axis": null}
          }
        },
        {
          "data": {"name": "one"},
          "mark": {"type": "text", "align": "left", "baseline": "alphabetic", "fontSize": 40, "text": "θ"},
          "encoding": {
            "x": {"datum": 25.8, "type": "quantitative", "scale": {"domain": [0, 90], "nice": false, "zero": false}, "axis": null},
            "y": {"datum": 0.0001318, "type": "quantitative", "scale": {"type": "log", "domain": [0.01, 1000000], "nice": false}, "axis": null}
          }
        },
        {
          "data": {"name": "one"},
          "mark": {"type": "text", "align": "left", "baseline": "alphabetic", "fontSize": 22, "text": "c.m."},
          "encoding": {
            "x": {"datum": 32.0, "type": "quantitative", "scale": {"domain": [0, 90], "nice": false, "zero": false}, "axis": null},
            "y": {"datum": 0.0001, "type": "quantitative", "scale": {"type": "log", "domain": [0.01, 1000000], "nice": false}, "axis": null}
          }
        },
        {
          "data": {"name": "one"},
          "mark": {"type": "text", "align": "left", "baseline": "alphabetic", "fontSize": 40, "text": "(deg)"},
          "encoding": {
            "x": {"datum": 44.0, "type": "quantitative", "scale": {"domain": [0, 90], "nice": false, "zero": false}, "axis": null},
            "y": {"datum": 0.0001318, "type": "quantitative", "scale": {"type": "log", "domain": [0.01, 1000000], "nice": false}, "axis": null}
          }
        }
      ],
      "resolve": {"scale": {"x": "independent", "y": "independent"}, "axis": {"x": "independent", "y": "independent"}}
    }
  ]
}
